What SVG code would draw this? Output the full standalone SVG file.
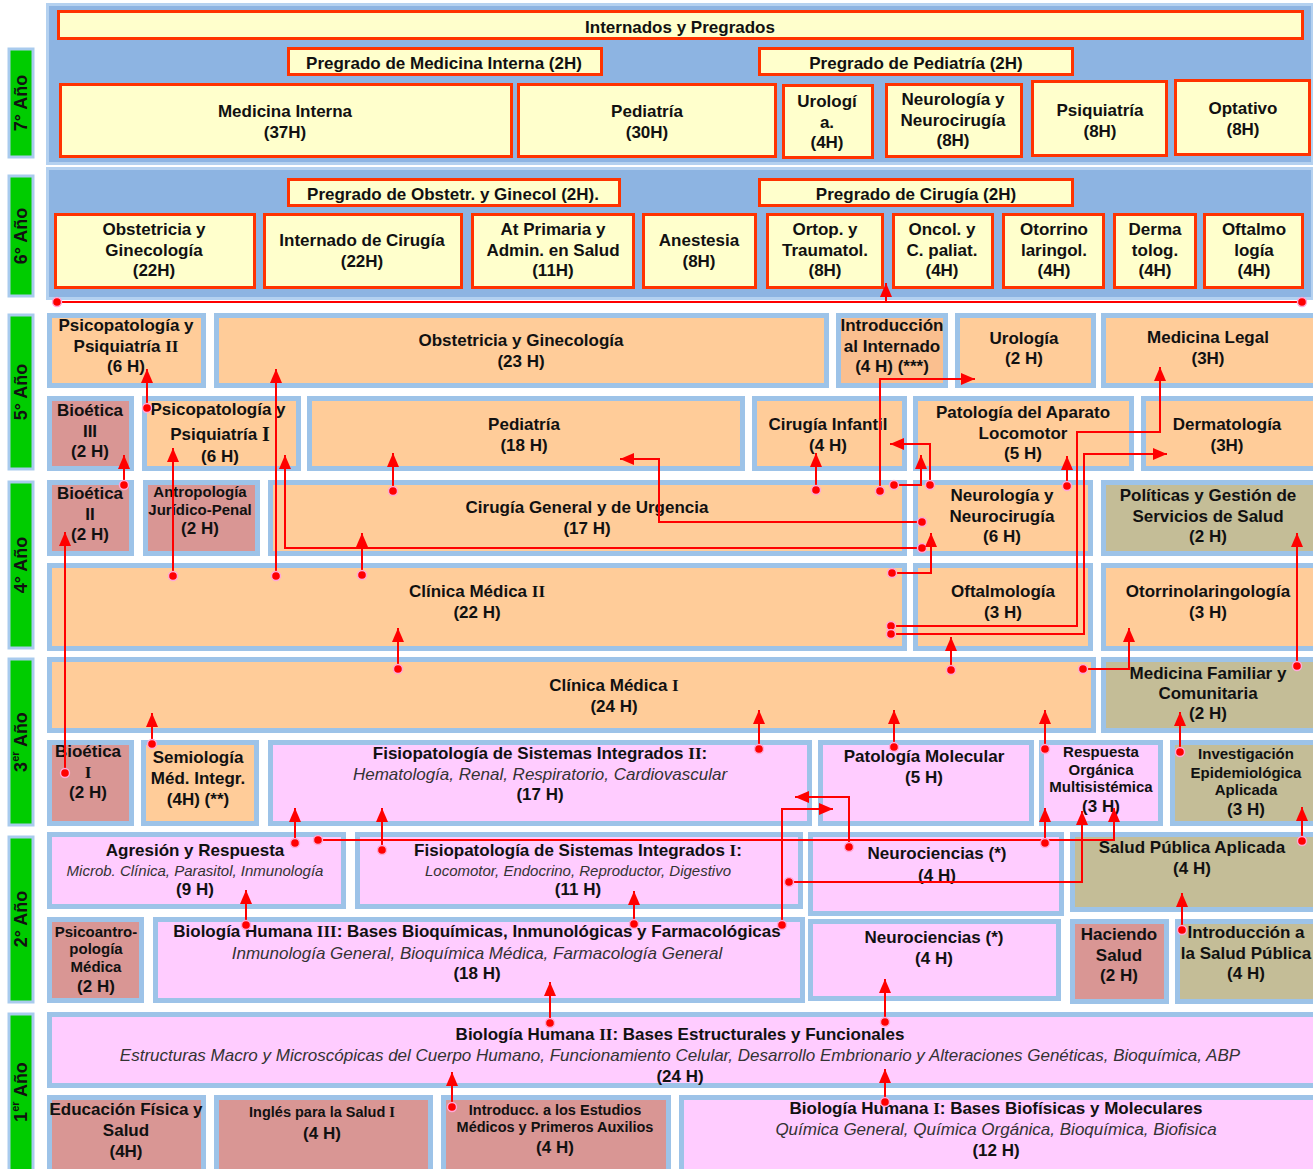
<svg xmlns="http://www.w3.org/2000/svg" width="1313" height="1169" viewBox="0 0 1313 1169">
<style>
.t{font-family:"Liberation Sans",Arial,sans-serif;font-weight:bold;font-size:17px;text-anchor:middle;dominant-baseline:central;fill:#111}
.i{font-weight:normal;font-style:italic;fill:#333}
.s{font-size:15px}
.x{font-size:14.5px}
.r{font-family:"Liberation Serif","Times New Roman",serif}
.yr{font-family:"Liberation Sans",Arial,sans-serif;font-weight:bold;font-size:18px;text-anchor:middle;dominant-baseline:central;fill:#111}
.yl{fill:#00CC00;stroke:#A9CBEE;stroke-width:3}
.tb{fill:#FFFFCC;stroke:#FF3300;stroke-width:3}
.lb{stroke:#9DC3E8;stroke-width:5}
.pe{fill:#FFCC99}
.ro{fill:#D99694}
.kh{fill:#C4BD97}
.pk{fill:#FFCCFF}
.c{fill:none;stroke:#FF0000;stroke-width:2;marker-start:url(#dot);marker-end:url(#arr)}
.a{fill:none;stroke:#FF0000;stroke-width:2;marker-end:url(#arr)}
.d{fill:none;stroke:#FF0000;stroke-width:2;marker-start:url(#dot);marker-end:url(#dot)}
</style>
<defs>
<marker id="arr" viewBox="0 0 14 12" refX="14" refY="6" markerWidth="14" markerHeight="12" markerUnits="userSpaceOnUse" orient="auto"><path d="M0,0 L14,6 L0,12 z" fill="#FF0000"/></marker>
<marker id="dot" viewBox="0 0 12 12" refX="6" refY="6" markerWidth="12" markerHeight="12" markerUnits="userSpaceOnUse"><circle cx="6" cy="6" r="4.5" fill="#FF0000" stroke="#FFA8D8" stroke-width="1.4"/></marker>
</defs>
<rect width="1313" height="1169" fill="#FFFFFF"/>

<!-- year labels -->
<g id="y7"><rect class="yl" x="9" y="49" width="24" height="108"/><text class="yr" transform="translate(21,103) rotate(-90)">7°  Año</text></g>
<g id="y6"><rect class="yl" x="9" y="176" width="24" height="120"/><text class="yr" transform="translate(21,236) rotate(-90)">6°  Año</text></g>
<g id="y5"><rect class="yl" x="9" y="315" width="24" height="154"/><text class="yr" transform="translate(21,392) rotate(-90)">5° Año</text></g>
<g id="y4"><rect class="yl" x="9" y="482" width="24" height="166"/><text class="yr" transform="translate(21,565) rotate(-90)">4° Año</text></g>
<g id="y3"><rect class="yl" x="9" y="659" width="24" height="166"/><text class="yr" transform="translate(21,742) rotate(-90)">3<tspan font-size="11" baseline-shift="super">er</tspan> Año</text></g>
<g id="y2"><rect class="yl" x="9" y="837" width="24" height="165"/><text class="yr" transform="translate(21,919) rotate(-90)">2° Año</text></g>
<g id="y1"><rect class="yl" x="9" y="1014" width="24" height="160"/><text class="yr" transform="translate(21,1092) rotate(-90)">1<tspan font-size="11" baseline-shift="super">er</tspan> Año</text></g>

<!-- blue panels -->
<rect x="47.5" y="4.5" width="1265" height="159" fill="#8DB4E2" stroke="#B4D1F0" stroke-width="3"/>
<rect x="47.5" y="168.5" width="1265" height="130" fill="#8DB4E2" stroke="#B4D1F0" stroke-width="3"/>

<!-- 7th year -->
<g id="n_internados"><rect class="tb" x="58.5" y="11.5" width="1244" height="27"/><text class="t" x="680" y="27">Internados y Pregrados</text></g>
<g id="n_pregMI"><rect class="tb" x="288.5" y="48.5" width="313" height="26"/><text class="t" x="444" y="63">Pregrado de Medicina Interna (2H)</text></g>
<g id="n_pregPed"><rect class="tb" x="759.5" y="48.5" width="313" height="26"/><text class="t" x="916" y="63">Pregrado de Pediatría (2H)</text></g>
<g id="n_medint"><rect class="tb" x="60.5" y="84.5" width="451" height="72"/><text class="t" x="285" y="111">Medicina Interna</text><text class="t" x="285" y="132">(37H)</text></g>
<g id="n_ped7"><rect class="tb" x="518.5" y="84.5" width="257" height="72"/><text class="t" x="647" y="111">Pediatría</text><text class="t" x="647" y="132">(30H)</text></g>
<g id="n_uro7"><rect class="tb" x="783.5" y="85.5" width="89" height="72"/><text class="t" x="827" y="101">Urologí</text><text class="t" x="827" y="122">a.</text><text class="t" x="827" y="142">(4H)</text></g>
<g id="n_neuro7"><rect class="tb" x="886.5" y="84.5" width="135" height="72"/><text class="t" x="953" y="99">Neurología y</text><text class="t" x="953" y="120">Neurocirugía</text><text class="t" x="953" y="140">(8H)</text></g>
<g id="n_psiq7"><rect class="tb" x="1032.5" y="81.5" width="134" height="74"/><text class="t" x="1100" y="110">Psiquiatría</text><text class="t" x="1100" y="131">(8H)</text></g>
<g id="n_opt"><rect class="tb" x="1175.5" y="80.5" width="134" height="74"/><text class="t" x="1243" y="108">Optativo</text><text class="t" x="1243" y="129">(8H)</text></g>

<!-- 6th year -->
<g id="n_pregOG"><rect class="tb" x="288.5" y="179.5" width="331" height="26"/><text class="t" x="453" y="194">Pregrado de Obstetr. y Ginecol (2H).</text></g>
<g id="n_pregCir"><rect class="tb" x="759.5" y="179.5" width="313" height="26"/><text class="t" x="916" y="194">Pregrado de Cirugía (2H)</text></g>
<g id="n_og6"><rect class="tb" x="55.5" y="214.5" width="199" height="73"/><text class="t" x="154" y="229">Obstetricia y</text><text class="t" x="154" y="250">Ginecología</text><text class="t" x="154" y="270">(22H)</text></g>
<g id="n_intcir"><rect class="tb" x="264.5" y="214.5" width="197" height="73"/><text class="t" x="362" y="240">Internado de Cirugía</text><text class="t" x="362" y="261">(22H)</text></g>
<g id="n_atprim"><rect class="tb" x="472.5" y="214.5" width="161" height="73"/><text class="t" x="553" y="229">At  Primaria y</text><text class="t" x="553" y="250">Admin.  en Salud</text><text class="t" x="553" y="270">(11H)</text></g>
<g id="n_anest"><rect class="tb" x="643.5" y="214.5" width="112" height="73"/><text class="t" x="699" y="240">Anestesia</text><text class="t" x="699" y="261">(8H)</text></g>
<g id="n_ortop"><rect class="tb" x="767.5" y="214.5" width="115" height="73"/><text class="t" x="825" y="229">Ortop.  y</text><text class="t" x="825" y="250">Traumatol.</text><text class="t" x="825" y="270">(8H)</text></g>
<g id="n_oncol"><rect class="tb" x="893.5" y="214.5" width="99" height="73"/><text class="t" x="942" y="229">Oncol. y</text><text class="t" x="942" y="250">C. paliat.</text><text class="t" x="942" y="270">(4H)</text></g>
<g id="n_otor6"><rect class="tb" x="1003.5" y="214.5" width="100" height="73"/><text class="t" x="1054" y="229">Otorrino</text><text class="t" x="1054" y="250">laringol.</text><text class="t" x="1054" y="270">(4H)</text></g>
<g id="n_derm6"><rect class="tb" x="1114.5" y="214.5" width="81" height="73"/><text class="t" x="1155" y="229">Derma</text><text class="t" x="1155" y="250">tolog.</text><text class="t" x="1155" y="270">(4H)</text></g>
<g id="n_oft6"><rect class="tb" x="1204.5" y="214.5" width="98" height="73"/><text class="t" x="1254" y="229">Oftalmo</text><text class="t" x="1254" y="250">logía</text><text class="t" x="1254" y="270">(4H)</text></g>

<!-- 5th year -->
<g id="n_psiq2"><rect class="lb pe" x="49.5" y="315.5" width="154" height="70"/><text class="t" x="126" y="325">Psicopatología y</text><text class="t" x="126" y="346">Psiquiatría <tspan class="r">II</tspan></text><text class="t" x="126" y="366">(6 H)</text></g>
<g id="n_og5"><rect class="lb pe" x="216.5" y="315.5" width="610" height="70"/><text class="t" x="521" y="340">Obstetricia y Ginecología</text><text class="t" x="521" y="361">(23 H)</text></g>
<g id="n_introint"><rect class="lb" fill="#FABF8F" x="838.5" y="315.5" width="107" height="70"/><text class="t" x="892" y="325">Introducción</text><text class="t" x="892" y="346">al Internado</text><text class="t" x="892" y="366">(4 H) (***)</text></g>
<g id="n_uro5"><rect class="lb pe" x="957.5" y="315.5" width="136" height="70"/><text class="t" x="1024" y="338">Urología</text><text class="t" x="1024" y="358">(2 H)</text></g>
<g id="n_medleg"><rect class="lb pe" x="1103.5" y="315.5" width="212" height="70"/><text class="t" x="1208" y="337">Medicina Legal</text><text class="t" x="1208" y="358">(3H)</text></g>

<g id="n_bio3"><rect class="lb ro" x="49.5" y="398.5" width="82" height="70"/><text class="t" x="90" y="410">Bioética</text><text class="t" x="90" y="431">III</text><text class="t" x="90" y="451">(2 H)</text></g>
<g id="n_psiq1"><rect class="lb pe" x="144.5" y="398.5" width="154" height="70"/><text class="t" x="218" y="409">Psicopatología y</text><text class="t" x="220" y="434">Psiquiatría <tspan class="r" font-size="20">I</tspan></text><text class="t" x="220" y="456">(6 H)</text></g>
<g id="n_ped5"><rect class="lb pe" x="309.5" y="398.5" width="433" height="70"/><text class="t" x="524" y="424">Pediatría</text><text class="t" x="524" y="445">(18 H)</text></g>
<g id="n_cirinf"><rect class="lb pe" x="754.5" y="398.5" width="150" height="70"/><text class="t" x="828" y="424">Cirugía Infantil</text><text class="t" x="828" y="445">(4 H)</text></g>
<g id="n_patloc"><rect class="lb pe" x="915.5" y="398.5" width="216" height="70"/><text class="t" x="1023" y="412">Patología del Aparato</text><text class="t" x="1023" y="433">Locomotor</text><text class="t" x="1023" y="453">(5 H)</text></g>
<g id="n_derm5"><rect class="lb pe" x="1143.5" y="398.5" width="172" height="70"/><text class="t" x="1227" y="424">Dermatología</text><text class="t" x="1227" y="445">(3H)</text></g>

<!-- 4th year -->
<g id="n_bio2"><rect class="lb ro" x="49.5" y="482.5" width="82" height="71"/><text class="t" x="90" y="493">Bioética</text><text class="t" x="90" y="514">II</text><text class="t" x="90" y="534">(2 H)</text></g>
<g id="n_antro"><rect class="lb ro" x="145.5" y="482.5" width="112" height="71"/><text class="t s" x="200" y="491">Antropología</text><text class="t s" x="200" y="509">Jurídico-Penal</text><text class="t" x="200" y="528">(2 H)</text></g>
<g id="n_cirgen"><rect class="lb pe" x="270.5" y="482.5" width="634" height="71"/><text class="t" x="587" y="507">Cirugía General y de Urgencia</text><text class="t" x="587" y="528">(17 H)</text></g>
<g id="n_neuro4"><rect class="lb pe" x="915.5" y="482.5" width="175" height="71"/><text class="t" x="1002" y="495">Neurología y</text><text class="t" x="1002" y="516">Neurocirugía</text><text class="t" x="1002" y="536">(6 H)</text></g>
<g id="n_polit"><rect class="lb kh" x="1103.5" y="482.5" width="212" height="71"/><text class="t" x="1208" y="495">Políticas y  Gestión de</text><text class="t" x="1208" y="516">Servicios de Salud</text><text class="t" x="1208" y="536">(2 H)</text></g>

<g id="n_cm2"><rect class="lb pe" x="49.5" y="565.5" width="855" height="83"/><text class="t" x="477" y="591">Clínica Médica <tspan class="r">II</tspan></text><text class="t" x="477" y="612">(22 H)</text></g>
<g id="n_oftal"><rect class="lb pe" x="915.5" y="565.5" width="175" height="83"/><text class="t" x="1003" y="591">Oftalmología</text><text class="t" x="1003" y="612">(3 H)</text></g>
<g id="n_otor4"><rect class="lb pe" x="1103.5" y="565.5" width="212" height="83"/><text class="t" x="1208" y="591">Otorrinolaringología</text><text class="t" x="1208" y="612">(3 H)</text></g>

<!-- 3rd year -->
<g id="n_cm1"><rect class="lb pe" x="49.5" y="659.5" width="1044" height="71"/><text class="t" x="614" y="685">Clínica Médica <tspan class="r">I</tspan></text><text class="t" x="614" y="706">(24 H)</text></g>
<g id="n_medfam"><rect class="lb kh" x="1103.5" y="659.5" width="212" height="71"/><text class="t" x="1208" y="673">Medicina Familiar y</text><text class="t" x="1208" y="693">Comunitaria</text><text class="t" x="1208" y="713">(2 H)</text></g>

<g id="n_bio1"><rect class="lb ro" x="49.5" y="742.5" width="82" height="81"/><text class="t" x="88" y="751">Bioética</text><text class="t" x="88" y="772"><tspan class="r">I</tspan></text><text class="t" x="88" y="792">(2 H)</text></g>
<g id="n_semio"><rect class="lb pe" x="143.5" y="742.5" width="113" height="81"/><text class="t" x="198" y="757">Semiología</text><text class="t" x="198" y="778">Méd. Integr.</text><text class="t" x="198" y="799">(4H) (**)</text></g>
<g id="n_fisio2"><rect class="lb pk" x="270.5" y="742.5" width="539" height="81"/><text class="t" x="540" y="753">Fisiopatología de Sistemas Integrados <tspan class="r">II</tspan>:</text><text class="t i" x="540" y="774">Hematología,  Renal, Respiratorio, Cardiovascular</text><text class="t" x="540" y="794">(17 H)</text></g>
<g id="n_patmol"><rect class="lb pk" x="820.5" y="742.5" width="211" height="81"/><text class="t" x="924" y="756">Patología Molecular</text><text class="t" x="924" y="777">(5 H)</text></g>
<g id="n_resp"><rect class="lb pk" x="1041.5" y="742.5" width="119" height="81"/><text class="t s" x="1101" y="751">Respuesta</text><text class="t s" x="1101" y="769">Orgánica</text><text class="t s" x="1101" y="786">Multisistémica</text><text class="t" x="1101" y="806">(3 H)</text></g>
<g id="n_invep"><rect class="lb kh" x="1172.5" y="742.5" width="143" height="81"/><text class="t s" x="1246" y="753">Investigación</text><text class="t s" x="1246" y="772">Epidemiológica</text><text class="t s" x="1246" y="789">Aplicada</text><text class="t" x="1246" y="809">(3 H)</text></g>

<!-- 2nd year -->
<g id="n_agres"><rect class="lb pk" x="49.5" y="834.5" width="294" height="72"/><text class="t" x="195" y="850">Agresión y Respuesta</text><text class="t i s" x="195" y="870">Microb. Clínica, Parasitol, Inmunología</text><text class="t" x="195" y="889">(9 H)</text></g>
<g id="n_fisio1"><rect class="lb pk" x="357.5" y="834.5" width="443" height="72"/><text class="t" x="578" y="850">Fisiopatología de Sistemas Integrados <tspan class="r">I</tspan>:</text><text class="t i s" x="578" y="870">Locomotor, Endocrino, Reproductor, Digestivo</text><text class="t" x="578" y="889">(11 H)</text></g>
<g id="n_neuroc1"><rect class="lb pk" x="810.5" y="834.5" width="251" height="79"/><text class="t" x="937" y="853">Neurociencias (*)</text><text class="t" x="937" y="875">(4 H)</text></g>
<g id="n_salpubap"><rect class="lb kh" x="1072.5" y="834.5" width="243" height="75"/><text class="t" x="1192" y="847">Salud Pública Aplicada</text><text class="t" x="1192" y="868">(4 H)</text></g>

<g id="n_psicoan"><rect class="lb ro" x="49.5" y="919.5" width="92" height="81"/><text class="t s" x="96" y="931">Psicoantro-</text><text class="t s" x="96" y="948">pología</text><text class="t s" x="96" y="966">Médica</text><text class="t" x="96" y="986">(2 H)</text></g>
<g id="n_bioh3"><rect class="lb pk" x="155.5" y="919.5" width="647" height="81"/><text class="t" x="477" y="931">Biología Humana <tspan class="r">III</tspan>: Bases Bioquímicas, Inmunológicas y Farmacológicas</text><text class="t i" x="477" y="953">Inmunología General,  Bioquímica Médica, Farmacología General</text><text class="t" x="477" y="973">(18 H)</text></g>
<g id="n_neuroc2"><rect class="lb pk" x="810.5" y="921.5" width="248" height="77"/><text class="t" x="934" y="937">Neurociencias (*)</text><text class="t" x="934" y="958">(4 H)</text></g>
<g id="n_hacsal"><rect class="lb ro" x="1072.5" y="921.5" width="94" height="80"/><text class="t" x="1119" y="934">Haciendo</text><text class="t" x="1119" y="955">Salud</text><text class="t" x="1119" y="975">(2 H)</text></g>
<g id="n_intsp"><rect class="lb kh" x="1177.5" y="921.5" width="138" height="80"/><text class="t" x="1246" y="932">Introducción a</text><text class="t" x="1246" y="953">la Salud Pública</text><text class="t" x="1246" y="973">(4 H)</text></g>

<!-- 1st year -->
<g id="n_bioh2"><rect class="lb pk" x="49.5" y="1014.5" width="1266" height="71"/><text class="t" x="680" y="1034">Biología Humana <tspan class="r">II</tspan>: Bases Estructurales y Funcionales</text><text class="t i" x="680" y="1055">Estructuras Macro y Microscópicas del Cuerpo Humano, Funcionamiento Celular, Desarrollo Embrionario y Alteraciones Genéticas, Bioquímica,  ABP</text><text class="t" x="680" y="1076">(24 H)</text></g>
<g id="n_edfis"><rect class="lb ro" x="49.5" y="1097.5" width="154" height="80"/><text class="t" x="126" y="1109">Educación Física y</text><text class="t" x="126" y="1130">Salud</text><text class="t" x="126" y="1151">(4H)</text></g>
<g id="n_ingles"><rect class="lb ro" x="216.5" y="1097.5" width="214" height="80"/><text class="t x" x="322" y="1112">Inglés para la Salud <tspan class="r">I</tspan></text><text class="t" x="322" y="1133">(4 H)</text></g>
<g id="n_introest"><rect class="lb ro" x="443.5" y="1097.5" width="225" height="80"/><text class="t x" x="555" y="1110">Introducc. a los Estudios</text><text class="t x" x="555" y="1127">Médicos y Primeros Auxilios</text><text class="t" x="555" y="1147">(4 H)</text></g>
<g id="n_bioh1"><rect class="lb pk" x="681.5" y="1097.5" width="634" height="80"/><text class="t" x="996" y="1108">Biología Humana <tspan class="r">I</tspan>: Bases Biofísicas y Moleculares</text><text class="t i" x="996" y="1129">Química General, Química Orgánica, Bioquímica, Biofisica</text><text class="t" x="996" y="1150">(12 H)</text></g>

<!-- connectors -->
<g id="connectors">
<path class="d" d="M57,302 H1302"/>
<path class="a" d="M886,302 V283"/>
<path class="c" d="M147,408 V369"/>
<path class="c" d="M124,485 V455"/>
<path class="c" d="M65,773 V532"/>
<path class="c" d="M173,576 V448"/>
<path class="c" d="M276,576 V369"/>
<path class="c" d="M922,548 H285 V455"/>
<path class="c" d="M362,575 V533"/>
<path class="c" d="M393,491 V453"/>
<path class="c" d="M922,522 H659 V459 H620"/>
<path class="c" d="M816,490 V453"/>
<path class="c" d="M880,491 V379 H975"/>
<path class="c" d="M894,485 H921 V455"/>
<path class="c" d="M930,485 V444 H890"/>
<path class="c" d="M1067,486 V456"/>
<path class="c" d="M892,573 H931 V533"/>
<path class="c" d="M891,626 H1077 V432 H1160 V367"/>
<path class="c" d="M891,634 H1084 V454 H1167"/>
<path class="c" d="M951,670 V637"/>
<path class="c" d="M398,669 V628"/>
<path class="c" d="M1083,669 H1129 V628"/>
<path class="c" d="M1297,666 V533"/>
<path class="c" d="M152,744 V713"/>
<path class="c" d="M759,749 V710"/>
<path class="c" d="M894,747 V710"/>
<path class="c" d="M1045,749 V710"/>
<path class="c" d="M1180,752 V712"/>
<path class="c" d="M1302,841 V807"/>
<path class="c" d="M295,843 V808"/>
<path class="c" d="M318,840 H1114 V808"/>
<path class="c" d="M1045,843 V808"/>
<path class="c" d="M382,850 V808"/>
<path class="c" d="M849,847 V797 H795"/>
<path class="c" d="M782,925 V809 H833"/>
<path class="c" d="M789,882 H1082 V811"/>
<path class="c" d="M246,925 V890"/>
<path class="c" d="M634,924 V891"/>
<path class="c" d="M550,1023 V982"/>
<path class="c" d="M885,1022 V979"/>
<path class="c" d="M1182,930 V893"/>
<path class="c" d="M452,1107 V1072"/>
<path class="c" d="M885,1102 V1069"/>
</g>
</svg>
